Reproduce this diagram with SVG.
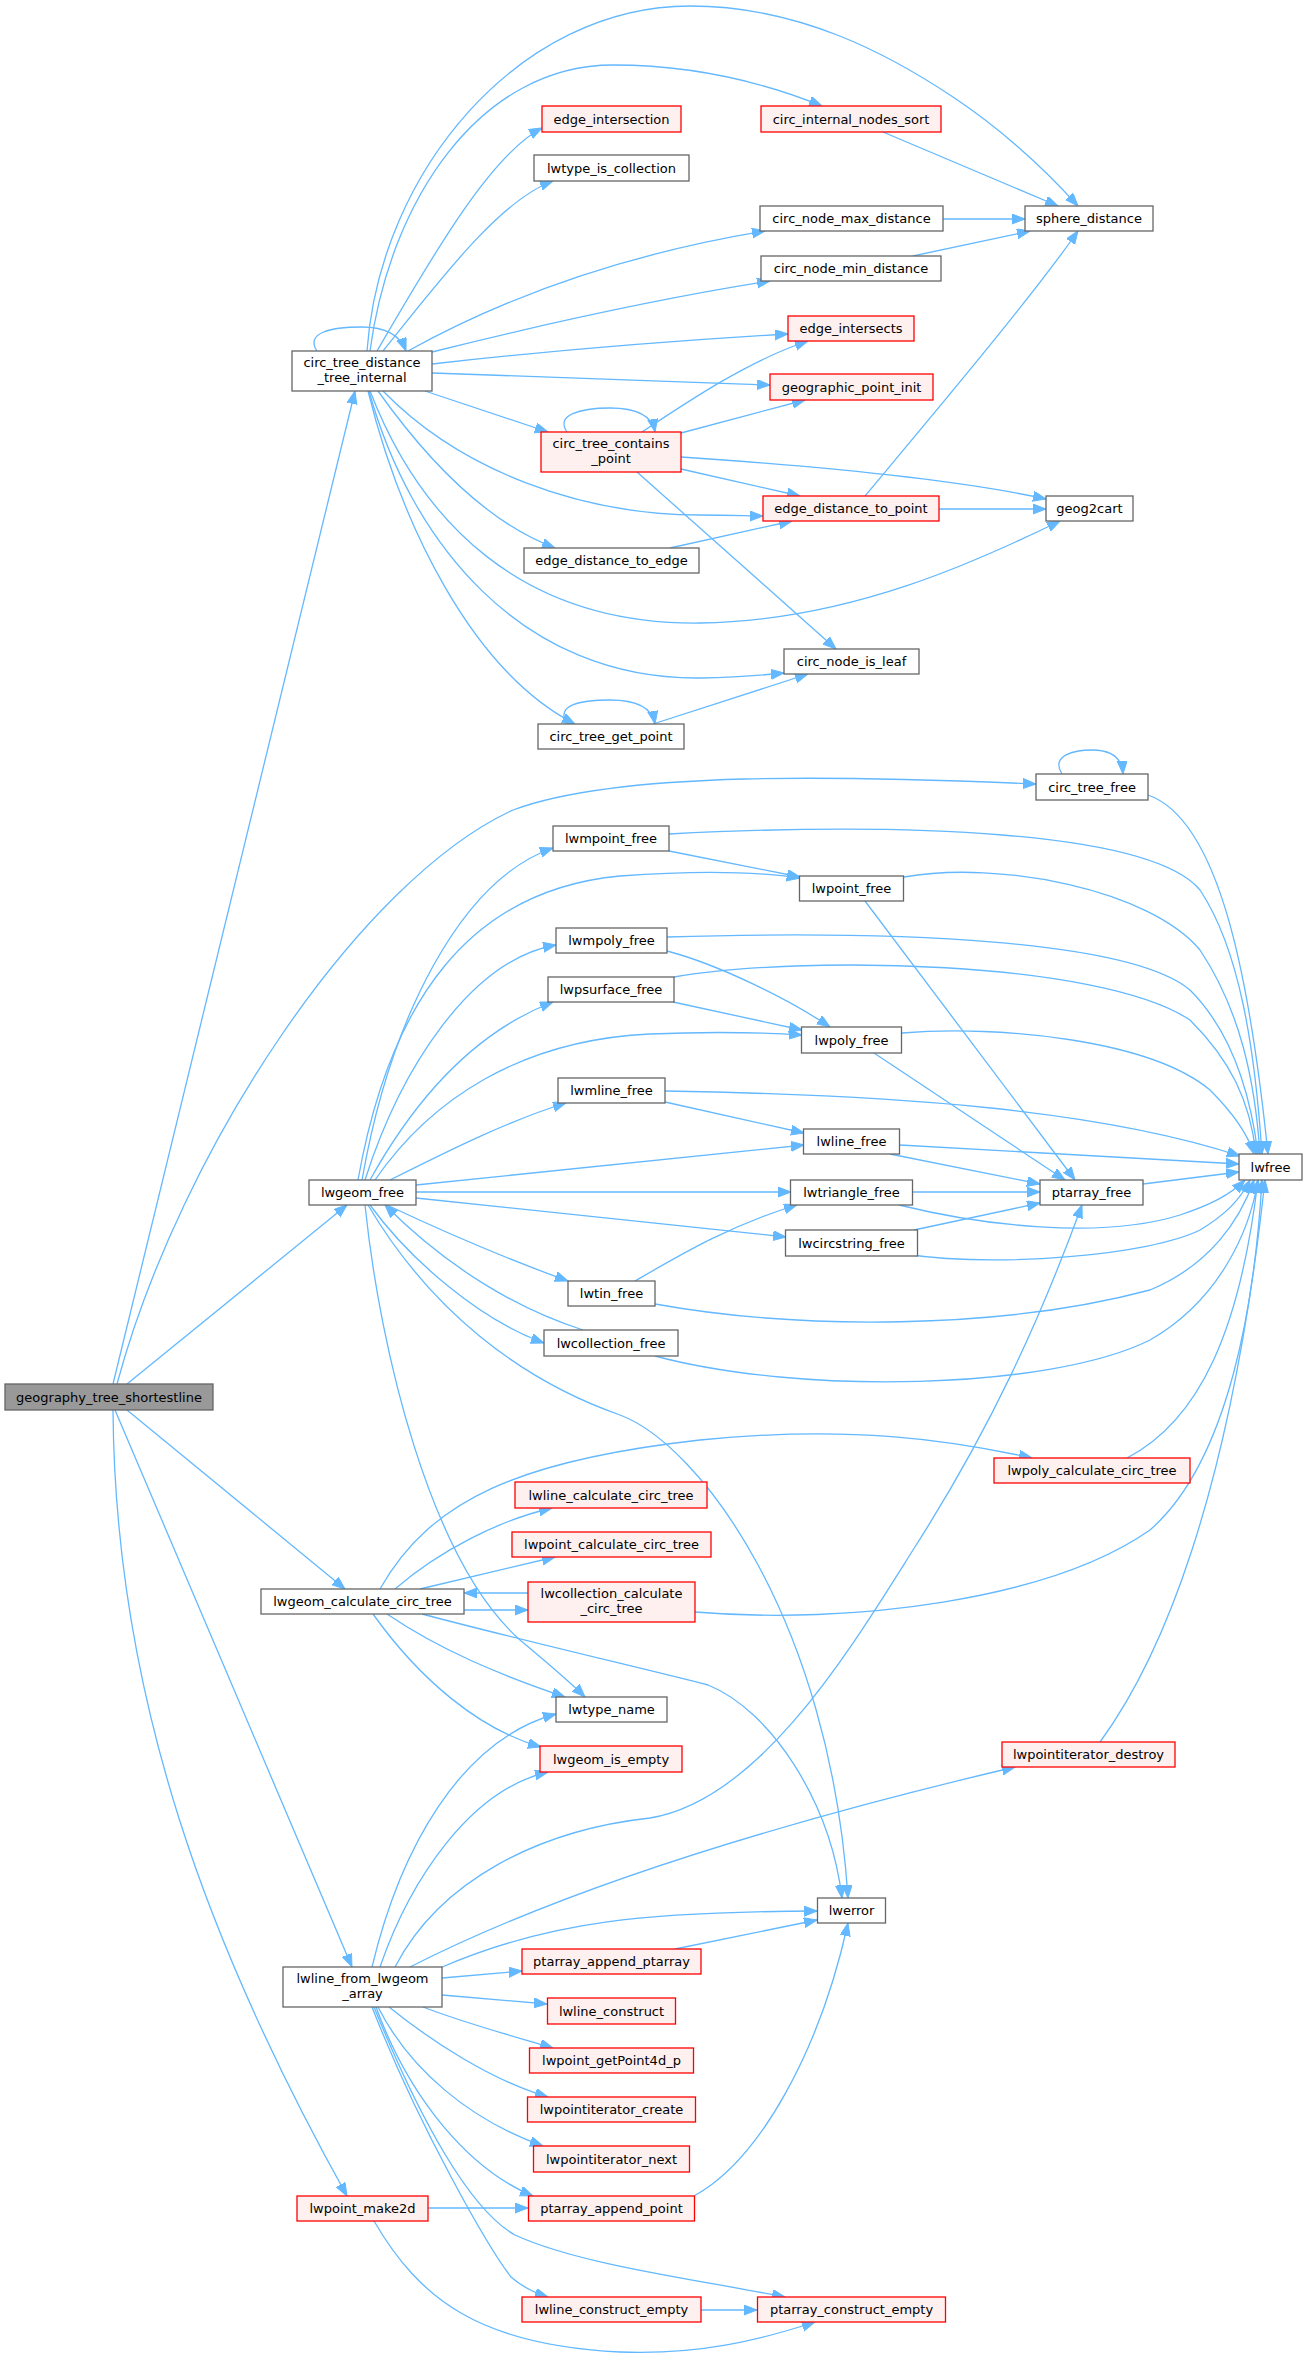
<svg xmlns="http://www.w3.org/2000/svg" width="1303" height="2359" viewBox="0 0 1303 2359">
<style>
rect{stroke-width:1.3}
.n rect{fill:#ffffff;stroke:#666666}
.r rect{fill:#fff0f0;stroke:#ff0000}
.root rect{fill:#999999;stroke:#666666}
text{font-family:"DejaVu Sans",sans-serif;font-size:13px;text-anchor:middle;fill:#000}
#edges path{fill:none;stroke:#63b8ff;stroke-width:1.3;marker-end:url(#a)}
</style>
<defs>
<marker id="a" markerUnits="userSpaceOnUse" markerWidth="14" markerHeight="11" refX="13" refY="5" orient="auto"><path d="M0,0 L13,5 L0,10 z" fill="#63b8ff" stroke="#63b8ff" stroke-width="1"/></marker>
</defs>
<rect width="1303" height="2359" fill="#ffffff" stroke="none"/>
<g id="edges">
<path d="M113,1384 L355,391"/>
<path d="M117,1384 C180,1150 360,880 513,810 C620,770 850,776 1036,784"/>
<path d="M127,1384 L347,1205"/>
<path d="M127,1410 L345,1589"/>
<path d="M115,1410 L352,1967"/>
<path d="M113,1410 C115,1700 210,1950 347,2196"/>
<path d="M317,351 C305,333 330,327 362,327 C385,327 400,335 406,351"/>
<path d="M367,351 C380,170 520,6 690,6 C800,6 890,55 953,97 C1010,135 1050,175 1078,206"/>
<path d="M370,351 C390,200 480,65 613,65 C700,65 770,85 822,106"/>
<path d="M377,351 C430,260 490,155 542,128"/>
<path d="M383,351 C440,280 500,200 553,181"/>
<path d="M408,351 C500,300 620,255 765,231"/>
<path d="M432,352 C540,325 650,300 770,281"/>
<path d="M432,364 Q600,345 788,334"/>
<path d="M432,373 L770,385"/>
<path d="M425,391 L548,432"/>
<path d="M383,391 C460,470 580,515 700,515 C730,515 750,516 763,516"/>
<path d="M378,391 C420,450 480,520 555,548"/>
<path d="M370,391 C420,520 520,625 700,623 C850,621 980,560 1060,521"/>
<path d="M369,391 C410,540 520,680 700,678 C740,677 765,675 784,673"/>
<path d="M368,391 C400,520 470,670 575,724"/>
<path d="M883,132 L1058,206"/>
<path d="M943,219 L1025,219"/>
<path d="M913,256 L1030,231"/>
<path d="M865,496 C920,430 1030,300 1078,231"/>
<path d="M939,509 L1046,509"/>
<path d="M567,432 C555,415 580,408 610,408 C635,408 652,415 655,432"/>
<path d="M642,432 C690,400 750,360 808,341"/>
<path d="M681,433 L805,400"/>
<path d="M681,457 C800,465 950,478 1046,499"/>
<path d="M681,469 L800,496"/>
<path d="M637,472 L836,649"/>
<path d="M670,548 L792,521"/>
<path d="M567,724 C555,705 580,700 610,700 C635,700 652,707 655,724"/>
<path d="M653,724 L808,674"/>
<path d="M1062,774 C1050,755 1075,750 1092,750 C1110,750 1122,757 1123,774"/>
<path d="M1148,795 C1220,820 1250,980 1268,1154"/>
<path d="M362,1180 C390,1020 460,880 553,848"/>
<path d="M358,1180 C390,1000 470,890 620,876 C700,870 760,872 800,878"/>
<path d="M365,1180 C400,1070 470,960 556,945"/>
<path d="M370,1180 C420,1090 480,1030 553,1002"/>
<path d="M375,1180 C430,1100 520,1040 650,1034 C720,1031 770,1033 802,1035"/>
<path d="M390,1180 C450,1150 510,1120 566,1103"/>
<path d="M416,1185 L804,1145"/>
<path d="M416,1192 L791,1192"/>
<path d="M416,1198 L786,1237"/>
<path d="M387,1205 C440,1230 510,1260 568,1281"/>
<path d="M370,1205 C410,1260 480,1320 544,1343"/>
<path d="M583,1330 C520,1310 450,1270 385,1205"/>
<path d="M365,1205 C380,1350 430,1560 520,1640 C550,1665 570,1682 585,1697"/>
<path d="M368,1205 C430,1310 520,1380 620,1415 C700,1445 830,1620 848,1898"/>
<path d="M669,834 C900,822 1150,830 1200,890 C1240,950 1255,1050 1262,1154"/>
<path d="M669,851 L800,877"/>
<path d="M904,877 C1000,860 1150,890 1200,950 C1240,1010 1255,1080 1260,1154"/>
<path d="M865,901 L1075,1180"/>
<path d="M667,937 C900,930 1130,940 1190,990 C1230,1030 1250,1090 1258,1154"/>
<path d="M667,951 C720,965 790,1000 830,1027"/>
<path d="M674,977 C800,955 1100,960 1190,1020 C1230,1060 1250,1100 1256,1154"/>
<path d="M673,1002 L802,1030"/>
<path d="M902,1033 C1000,1025 1150,1040 1210,1090 C1235,1115 1248,1135 1254,1154"/>
<path d="M874,1053 L1065,1180"/>
<path d="M665,1091 C900,1095 1100,1110 1240,1156"/>
<path d="M665,1102 L804,1133"/>
<path d="M900,1145 L1239,1164"/>
<path d="M890,1154 L1040,1184"/>
<path d="M913,1192 L1040,1192"/>
<path d="M899,1205 C980,1225 1100,1240 1180,1215 C1210,1205 1230,1195 1245,1180"/>
<path d="M1143,1184 L1239,1172"/>
<path d="M914,1230 L1040,1203"/>
<path d="M904,1254 C1000,1268 1150,1255 1200,1230 C1225,1215 1240,1200 1250,1180"/>
<path d="M635,1281 C680,1255 730,1225 797,1205"/>
<path d="M655,1304 C800,1330 1000,1330 1150,1290 C1210,1265 1240,1220 1254,1180"/>
<path d="M655,1356 C800,1395 1050,1390 1150,1340 C1220,1300 1250,1230 1258,1180"/>
<path d="M380,1589 C430,1500 520,1460 700,1440 C850,1425 950,1440 1032,1458"/>
<path d="M395,1589 C440,1550 500,1520 552,1508"/>
<path d="M420,1589 L555,1557"/>
<path d="M464,1610 L528,1610"/>
<path d="M528,1593 L464,1593"/>
<path d="M387,1614 C440,1650 500,1675 565,1697"/>
<path d="M373,1614 C420,1680 480,1730 541,1747"/>
<path d="M422,1614 C520,1640 650,1670 708,1685 C770,1710 830,1800 842,1898"/>
<path d="M695,1612 C850,1625 1050,1600 1150,1530 C1230,1460 1255,1300 1262,1180"/>
<path d="M1127,1458 C1200,1420 1240,1330 1258,1180"/>
<path d="M1100,1742 C1160,1660 1230,1500 1265,1180"/>
<path d="M372,1967 C400,1850 460,1740 556,1714"/>
<path d="M380,1967 C410,1880 470,1790 548,1772"/>
<path d="M395,1967 C440,1880 540,1830 650,1818 C760,1800 850,1650 913,1550 C990,1430 1040,1320 1082,1205"/>
<path d="M410,1967 Q620,1860 1015,1767"/>
<path d="M440,1968 C550,1920 650,1912 817,1911"/>
<path d="M442,1978 L522,1971"/>
<path d="M442,1995 L547,2004"/>
<path d="M423,2007 C470,2025 520,2038 553,2048"/>
<path d="M389,2007 C430,2040 490,2080 548,2097"/>
<path d="M378,2007 C410,2070 470,2120 543,2146"/>
<path d="M376,2007 C410,2100 470,2170 533,2196"/>
<path d="M374,2007 C420,2120 470,2210 515,2235 C580,2265 700,2280 785,2297"/>
<path d="M372,2007 C420,2130 490,2250 511,2277 C520,2285 535,2293 548,2297"/>
<path d="M675,1949 L817,1920"/>
<path d="M694,2196 C760,2160 820,2050 848,1923"/>
<path d="M428,2208 L528,2208"/>
<path d="M374,2221 C420,2300 480,2345 620,2352 C700,2355 760,2340 815,2322"/>
<path d="M701,2310 L757,2310"/>
</g>
<g id="geography_tree_shortestline" class="root"><rect x="5" y="1384" width="208" height="26"/><text x="109" y="1401.5">geography_tree_shortestline</text></g>
<g id="circ_tree_distance_tree_internal" class="n"><rect x="292" y="351" width="140" height="40"/><text x="362" y="367">circ_tree_distance</text><text x="362" y="382">_tree_internal</text></g>
<g id="edge_intersection" class="r"><rect x="542" y="106" width="139" height="26"/><text x="611.5" y="123.5">edge_intersection</text></g>
<g id="lwtype_is_collection" class="n"><rect x="534" y="155" width="155" height="26"/><text x="611.5" y="172.5">lwtype_is_collection</text></g>
<g id="circ_internal_nodes_sort" class="r"><rect x="761" y="106" width="180" height="26"/><text x="851" y="123.5">circ_internal_nodes_sort</text></g>
<g id="sphere_distance" class="n"><rect x="1025" y="206" width="128" height="25"/><text x="1089" y="223">sphere_distance</text></g>
<g id="circ_node_max_distance" class="n"><rect x="760" y="206" width="183" height="25"/><text x="851.5" y="223">circ_node_max_distance</text></g>
<g id="circ_node_min_distance" class="n"><rect x="761" y="256" width="180" height="25"/><text x="851" y="273">circ_node_min_distance</text></g>
<g id="edge_intersects" class="r"><rect x="788" y="316" width="126" height="25"/><text x="851" y="333">edge_intersects</text></g>
<g id="geographic_point_init" class="r"><rect x="770" y="374" width="163" height="26"/><text x="851.5" y="391.5">geographic_point_init</text></g>
<g id="circ_tree_contains_point" class="r"><rect x="541" y="432" width="140" height="40"/><text x="611" y="448">circ_tree_contains</text><text x="611" y="463">_point</text></g>
<g id="edge_distance_to_point" class="r"><rect x="763" y="496" width="176" height="25"/><text x="851" y="513">edge_distance_to_point</text></g>
<g id="geog2cart" class="n"><rect x="1046" y="496" width="87" height="25"/><text x="1089.5" y="513">geog2cart</text></g>
<g id="edge_distance_to_edge" class="n"><rect x="524" y="548" width="175" height="25"/><text x="611.5" y="565">edge_distance_to_edge</text></g>
<g id="circ_node_is_leaf" class="n"><rect x="784" y="649" width="135" height="25"/><text x="851.5" y="666">circ_node_is_leaf</text></g>
<g id="circ_tree_get_point" class="n"><rect x="538" y="724" width="146" height="25"/><text x="611" y="741">circ_tree_get_point</text></g>
<g id="circ_tree_free" class="n"><rect x="1036" y="774" width="112" height="26"/><text x="1092" y="791.5">circ_tree_free</text></g>
<g id="lwmpoint_free" class="n"><rect x="553" y="826" width="116" height="25"/><text x="611" y="843">lwmpoint_free</text></g>
<g id="lwpoint_free" class="n"><rect x="799.5" y="876" width="104" height="25"/><text x="851.5" y="893">lwpoint_free</text></g>
<g id="lwmpoly_free" class="n"><rect x="556" y="928" width="111" height="25"/><text x="611.5" y="945">lwmpoly_free</text></g>
<g id="lwpsurface_free" class="n"><rect x="548" y="977" width="126" height="25"/><text x="611" y="994">lwpsurface_free</text></g>
<g id="lwpoly_free" class="n"><rect x="801.5" y="1027" width="100" height="26"/><text x="851.5" y="1044.5">lwpoly_free</text></g>
<g id="lwmline_free" class="n"><rect x="558" y="1078" width="107" height="25"/><text x="611.5" y="1095">lwmline_free</text></g>
<g id="lwline_free" class="n"><rect x="803.5" y="1129" width="96" height="25"/><text x="851.5" y="1146">lwline_free</text></g>
<g id="lwfree" class="n"><rect x="1239" y="1154" width="63" height="26"/><text x="1270.5" y="1171.5">lwfree</text></g>
<g id="lwgeom_free" class="n"><rect x="309" y="1180" width="107" height="25"/><text x="362.5" y="1197">lwgeom_free</text></g>
<g id="lwtriangle_free" class="n"><rect x="790.5" y="1180" width="122" height="25"/><text x="851.5" y="1197">lwtriangle_free</text></g>
<g id="ptarray_free" class="n"><rect x="1040" y="1180" width="103" height="25"/><text x="1091.5" y="1197">ptarray_free</text></g>
<g id="lwcircstring_free" class="n"><rect x="785.5" y="1230" width="132" height="26"/><text x="851.5" y="1247.5">lwcircstring_free</text></g>
<g id="lwtin_free" class="n"><rect x="568" y="1281" width="87" height="25"/><text x="611.5" y="1298">lwtin_free</text></g>
<g id="lwcollection_free" class="n"><rect x="544" y="1330" width="134" height="26"/><text x="611" y="1347.5">lwcollection_free</text></g>
<g id="lwpoly_calculate_circ_tree" class="r"><rect x="994" y="1458" width="196" height="25"/><text x="1092" y="1475">lwpoly_calculate_circ_tree</text></g>
<g id="lwline_calculate_circ_tree" class="r"><rect x="515" y="1482" width="192" height="26"/><text x="611" y="1499.5">lwline_calculate_circ_tree</text></g>
<g id="lwpoint_calculate_circ_tree" class="r"><rect x="512" y="1532" width="199" height="25"/><text x="611.5" y="1549">lwpoint_calculate_circ_tree</text></g>
<g id="lwgeom_calculate_circ_tree" class="n"><rect x="261" y="1589" width="203" height="25"/><text x="362.5" y="1606">lwgeom_calculate_circ_tree</text></g>
<g id="lwcollection_calculate_circ_tree" class="r"><rect x="528" y="1582" width="167" height="40"/><text x="611.5" y="1598">lwcollection_calculate</text><text x="611.5" y="1613">_circ_tree</text></g>
<g id="lwtype_name" class="n"><rect x="556" y="1697" width="111" height="25"/><text x="611.5" y="1714">lwtype_name</text></g>
<g id="lwgeom_is_empty" class="r"><rect x="540" y="1746" width="142" height="26"/><text x="611" y="1763.5">lwgeom_is_empty</text></g>
<g id="lwpointiterator_destroy" class="r"><rect x="1002" y="1742" width="173" height="25"/><text x="1088.5" y="1759">lwpointiterator_destroy</text></g>
<g id="lwerror" class="n"><rect x="817.5" y="1898" width="68" height="25"/><text x="851.5" y="1915">lwerror</text></g>
<g id="lwline_from_lwgeom_array" class="n"><rect x="283" y="1967" width="159" height="40"/><text x="362.5" y="1983">lwline_from_lwgeom</text><text x="362.5" y="1998">_array</text></g>
<g id="ptarray_append_ptarray" class="r"><rect x="522" y="1949" width="179" height="25"/><text x="611.5" y="1966">ptarray_append_ptarray</text></g>
<g id="lwline_construct" class="r"><rect x="547.5" y="1998" width="128" height="26"/><text x="611.5" y="2015.5">lwline_construct</text></g>
<g id="lwpoint_getPoint4d_p" class="r"><rect x="529.5" y="2048" width="164" height="25"/><text x="611.5" y="2065">lwpoint_getPoint4d_p</text></g>
<g id="lwpointiterator_create" class="r"><rect x="527.5" y="2097" width="168" height="25"/><text x="611.5" y="2114">lwpointiterator_create</text></g>
<g id="lwpointiterator_next" class="r"><rect x="533.5" y="2146" width="156" height="26"/><text x="611.5" y="2163.5">lwpointiterator_next</text></g>
<g id="ptarray_append_point" class="r"><rect x="528.5" y="2196" width="166" height="25"/><text x="611.5" y="2213">ptarray_append_point</text></g>
<g id="lwpoint_make2d" class="r"><rect x="297" y="2196" width="131" height="25"/><text x="362.5" y="2213">lwpoint_make2d</text></g>
<g id="lwline_construct_empty" class="r"><rect x="522" y="2297" width="179" height="25"/><text x="611.5" y="2314">lwline_construct_empty</text></g>
<g id="ptarray_construct_empty" class="r"><rect x="757.5" y="2297" width="188" height="25"/><text x="851.5" y="2314">ptarray_construct_empty</text></g>
</svg>
